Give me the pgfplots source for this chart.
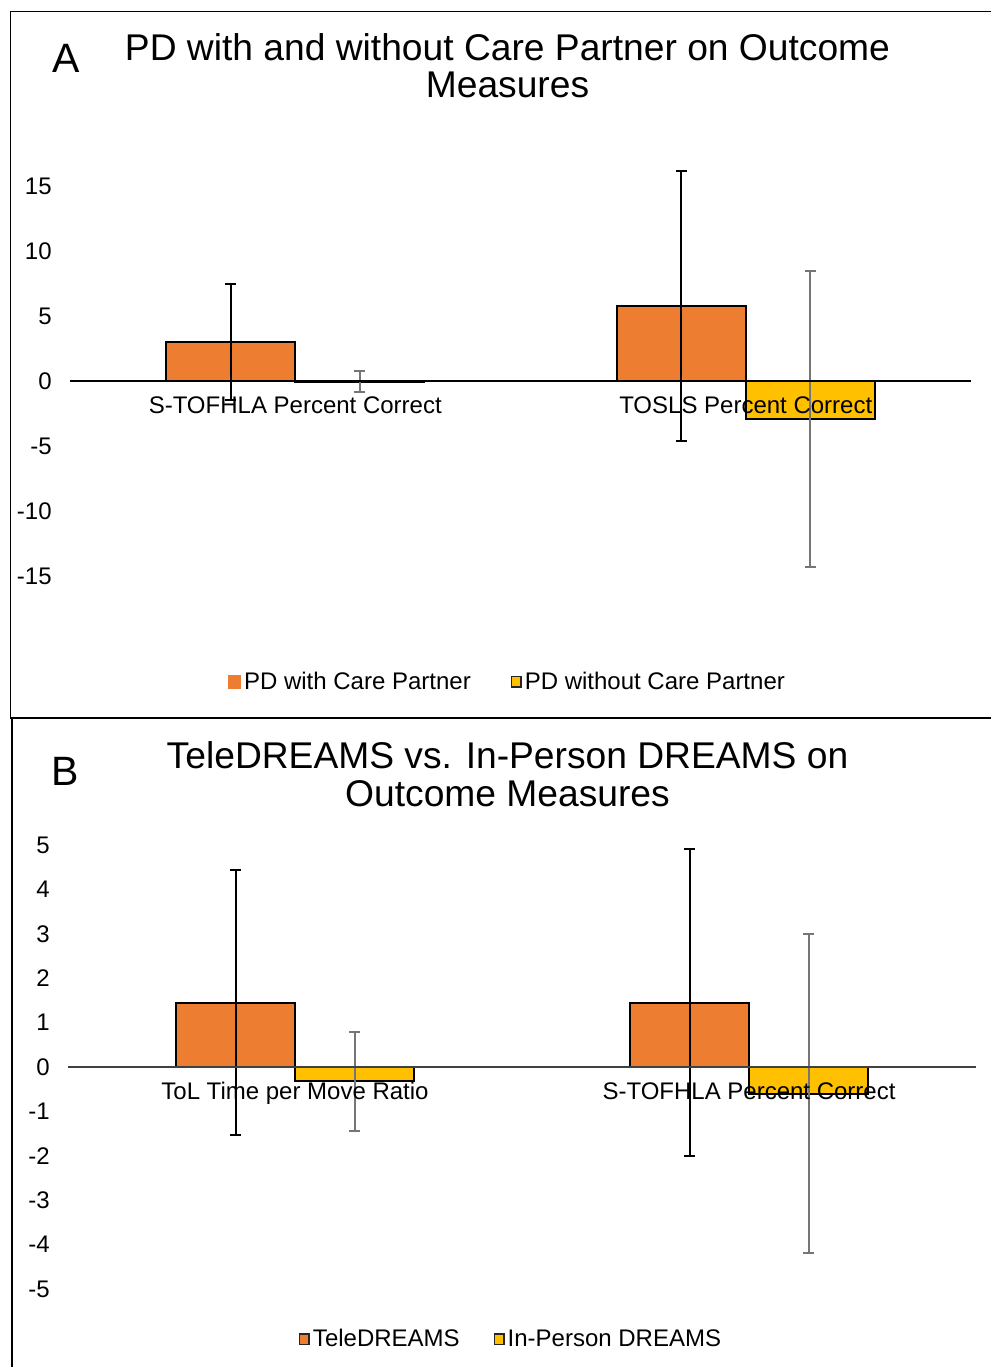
\documentclass[border=0pt]{standalone}
\usepackage{fontspec}
\setmainfont{Liberation Sans}
\usepackage{pgfplots}
\usepackage{pgfplotstable}
\pgfplotsset{compat=1.18}
\definecolor{cpOrange}{HTML}{ED7D31}
\definecolor{cpYellow}{HTML}{FFC000}
\definecolor{errGray}{HTML}{767676}
\newcommand{\smallfont}{\fontsize{24bp}{28bp}\selectfont}
\newcommand{\titlefont}{\fontsize{37.2bp}{38bp}\selectfont}
\newcommand{\letterfont}{\fontsize{41bp}{41bp}\selectfont}

\pgfplotstableread{
x y e
0 2.98 4.45
1 5.78 10.38
}\Awith
\pgfplotstableread{
x y e
0 -0.05 0.80
1 -2.90 11.38
}\Awithout
\pgfplotstableread{
x y e
0 1.45 2.98
1 1.45 3.46
}\Btele
\pgfplotstableread{
x y e
0 -0.32 1.11
1 -0.60 3.60
}\Binperson

\pgfplotsset{
  panel/.style={
    scale only axis,
    axis on top,
    axis x line=middle, axis y line=left,
    x axis line style={-},
    y axis line style={draw=none},
    xtick={0,1}, xtick style={draw=none}, ytick style={draw=none},
    xmin=-0.5, xmax=1.5,
    ybar=0pt,
    clip=false,
    ticklabel style={font=\smallfont},
    yticklabel style={inner sep=0pt, anchor=east, xshift=-16bp},
    xticklabel style={inner sep=0pt, anchor=base, yshift=-28bp},
    legend cell align=left,
    legend style={draw=none, fill=none, inner sep=0pt, outer sep=0pt,
      legend columns=2, font=\smallfont, nodes={inner sep=3bp}},
  },
  barA/.style={fill=cpOrange, draw=black, line width=2bp,
    error bars/.cd, y dir=both, y explicit,
    error bar style={black, line width=2bp},
    error mark options={rotate=90, black, mark size=5.5bp, line width=2bp}},
  barB/.style={fill=cpYellow, draw=black, line width=2bp,
    error bars/.cd, y dir=both, y explicit,
    error bar style={errGray, line width=2bp},
    error mark options={rotate=90, errGray, mark size=5.5bp, line width=2bp}},
}

\begin{document}
\begin{tikzpicture}
% frames
\draw[line width=1.8bp] (10.5bp,-717bp) -- (10.5bp,-11.5bp) -- (991bp,-11.5bp);
\draw[line width=2.5bp] (10bp,-718bp) -- (991bp,-718bp);
\draw[line width=1.8bp] (12bp,-718bp) -- (12bp,-1367bp);

% titles
\node[anchor=base west, inner sep=0pt, font=\letterfont] at (52bp,-72.7bp) {A};
\node[anchor=base, inner sep=0pt, font=\titlefont] at (507.5bp,-60bp) {PD with and without Care Partner on Outcome};
\node[anchor=base, inner sep=0pt, font=\titlefont] at (507.5bp,-97bp) {Measures};
\node[anchor=base west, inner sep=0pt, font=\letterfont] at (51.5bp,-785bp) {B};
\node[anchor=base, inner sep=0pt, font=\titlefont] at (507.5bp,-768.3bp) {TeleDREAMS vs. In-Person DREAMS on};
\node[anchor=base, inner sep=0pt, font=\titlefont] at (507.5bp,-806bp) {Outcome Measures};

% Panel A
\begin{axis}[panel,
  at={(70bp,-641bp)}, anchor=south west,
  width=901bp, height=520bp,
  ymin=-20, ymax=20,
  x axis line style={black, line width=1.5bp},
  bar width=129bp,
  ytick={-15,-10,-5,0,5,10,15},
  yticklabels={-15,-10,-5,0,5,10,15},
  xticklabels={S-TOFHLA Percent Correct, TOSLS Percent Correct},
  legend style={at={(axis description cs:0.1754,-0.0783)}, anchor=west,
    /tikz/every even column/.append style={column sep=37bp}},
]
\addplot[legend image code/.code={\fill[cpOrange] (0bp,-6bp) rectangle (11bp,6bp);}, barA] table[x=x, y=y, y error=e] {\Awith};
\addlegendentry{PD with Care Partner}
\addplot[legend image code/.code={\draw[fill=cpYellow, draw=black!85, line width=1.5bp] (0.75bp,-5.25bp) rectangle (10.25bp,5.25bp);}, barB] table[x=x, y=y, y error=e] {\Awithout};
\addlegendentry{PD without Care Partner}
\end{axis}

% Panel B
\begin{axis}[panel,
  at={(68bp,-1311.2bp)}, anchor=south west,
  width=908bp, height=488.4bp,
  ymin=-5.5, ymax=5.5,
  x axis line style={black!75, line width=1.5bp},
  bar width=119bp,
  ytick={-5,-4,-3,-2,-1,0,1,2,3,4,5},
  yticklabels={-5,-4,-3,-2,-1,0,1,2,3,4,5},
  xticklabels={ToL Time per Move Ratio, S-TOFHLA Percent Correct},
  legend style={at={(axis description cs:0.2544,-0.0569)}, anchor=west,
    /tikz/every even column/.append style={column sep=31bp}},
]
\addplot[legend image code/.code={\draw[fill=cpOrange, draw=black!85, line width=1.5bp] (0.75bp,-5.25bp) rectangle (10.25bp,5.25bp);}, barA] table[x=x, y=y, y error=e] {\Btele};
\addlegendentry{TeleDREAMS}
\addplot[legend image code/.code={\draw[fill=cpYellow, draw=black!85, line width=1.5bp] (0.75bp,-5.25bp) rectangle (10.25bp,5.25bp);}, barB] table[x=x, y=y, y error=e] {\Binperson};
\addlegendentry{In-Person DREAMS}
\end{axis}

\pgfresetboundingbox
\useasboundingbox (0,0) rectangle (991bp,-1367bp);
\end{tikzpicture}
\end{document}
